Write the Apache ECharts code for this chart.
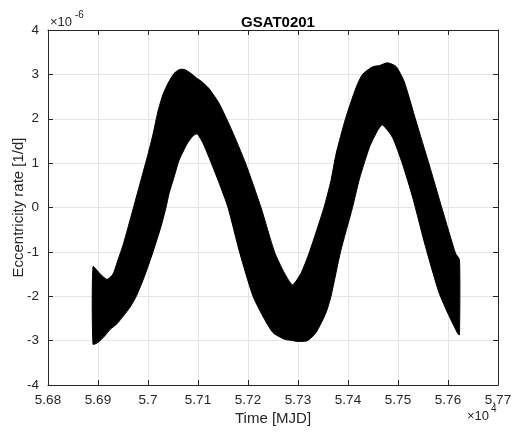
<!DOCTYPE html>
<html>
<head>
<meta charset="utf-8">
<script src="https://cdn.jsdelivr.net/npm/echarts@6/dist/echarts.min.js"></script>
<style>
  html, body { margin: 0; padding: 0; background: #fff; }
  #main { width: 513px; height: 432px; }
</style>
</head>
<body>
<div id="main"></div>
<script>
var chart = echarts.init(document.getElementById('main'));

// envelope of the eccentricity-rate band, values in units of 1e-6 [1/d], time in MJD
var upperTime = [56890, 56903, 56918, 56930, 56940, 56950, 56960, 56971, 56986, 57000,
    57010, 57020, 57030, 57041, 57052, 57063, 57073, 57085, 57097, 57106, 57122,
    57142, 57168, 57195, 57226, 57253, 57273, 57289, 57306, 57323, 57352,
    57366, 57376, 57395, 57416, 57429, 57449, 57463, 57479, 57496, 57512,
    57536, 57562, 57589, 57615, 57623];
var upperRate = [-1.33, -1.48, -1.62, -1.5, -1.18, -0.85, -0.45, 0, 0.62, 1.2,
    1.65, 2.17, 2.55, 2.82, 3.02, 3.11, 3.11, 3.03, 2.92, 2.85, 2.68,
    2.35, 1.73, 1.0, 0, -1, -1.48, -1.74, -1.48, -1.0, 0,
    0.61, 1.2, 2.0, 2.7, 3.0, 3.17, 3.2, 3.26, 3.18, 2.85,
    1.95, 0.98, -0.06, -1.03, -1.18];
var lowerTime = [56890, 56900, 56913, 56925, 56938, 56951, 56964, 56977, 56993, 57010,
    57026, 57036, 57042, 57052, 57062, 57078, 57089, 57098, 57110, 57122, 57142,
    57160, 57183, 57210, 57233, 57250, 57273, 57290, 57299, 57319, 57336,
    57356, 57366, 57385, 57409, 57423, 57443, 57460, 57469, 57489, 57509,
    57529, 57555, 57582, 57602, 57620, 57623];
var lowerRate = [-3.08, -3.04, -2.9, -2.74, -2.62, -2.44, -2.25, -1.99, -1.55, -1.0,
    -0.43, 0, 0.31, 0.68, 1.06, 1.43, 1.6, 1.66, 1.45, 1.13, 0.56,
    0, -1, -2, -2.52, -2.82, -2.97, -3.0, -3.02, -3.0, -2.82,
    -2.37, -2.0, -1.0, 0, 0.65, 1.36, 1.75, 1.86, 1.58, 0.98,
    0.24, -0.88, -1.92, -2.44, -2.85, -2.87];

var xMin = 56800, xMax = 57700, xStep = 100;
var yMin = -4, yMax = 4, yStep = 1;

var axisColor = '#262626';
var gridColor = '#e5e5e5';
var font = 'Liberation Sans, Helvetica, Arial, sans-serif';

function xLabel(v) {
    return String(Number((v / 10000).toFixed(2)));
}

// top / right box edges, ticks only
var hiddenAxis = {
    axisLine: { show: true, onZero: false, lineStyle: { color: axisColor, width: 1 } },
    axisTick: { show: true, inside: true, length: 5, lineStyle: { color: axisColor } },
    axisLabel: { show: false },
    splitLine: { show: false }
};

option = {
    backgroundColor: '#fff',
    animation: false,
    grid: {
        left: 48,
        right: 15,
        top: 30,
        bottom: 47,
        containLabel: false,
        outerBoundsMode: 'none'
    },
    title: {
        text: 'GSAT0201',
        left: 273,
        top: 10,
        textAlign: 'center',
        textStyle: {
            fontFamily: font,
            fontWeight: 'bold',
            fontSize: 15,
            color: '#000'
        }
    },
    graphic: [
        { type: 'text', left: 50, top: 16, style: { text: '×10', font: '13px ' + font, fill: axisColor } },
        { type: 'text', left: 75, top: 10, style: { text: '-6', font: '10px ' + font, fill: axisColor } },
        { type: 'text', left: 467, top: 410, style: { text: '×10', font: '13px ' + font, fill: axisColor } },
        { type: 'text', left: 491, top: 404, style: { text: '4', font: '10px ' + font, fill: axisColor } }
    ],
    xAxis: [{
        type: 'value',
        min: xMin,
        max: xMax,
        interval: xStep,
        position: 'bottom',
        name: 'Time [MJD]',
        nameLocation: 'middle',
        nameGap: 26,
        nameMoveOverlap: false,
        nameTextStyle: { fontFamily: font, fontSize: 15, color: axisColor },
        axisLine: { show: true, onZero: false, lineStyle: { color: axisColor, width: 1 } },
        axisTick: { show: true, inside: true, length: 5, lineStyle: { color: axisColor } },
        axisLabel: {
            fontFamily: font,
            fontSize: 13.5,
            color: axisColor,
            margin: 8,
            formatter: xLabel
        },
        splitLine: { show: true, lineStyle: { color: gridColor, width: 1 } }
    }, Object.assign({
        type: 'value',
        min: xMin,
        max: xMax,
        interval: xStep,
        position: 'top'
    }, hiddenAxis)],
    yAxis: [{
        type: 'value',
        min: yMin,
        max: yMax,
        interval: yStep,
        position: 'left',
        name: 'Eccentricity rate [1/d]',
        nameLocation: 'middle',
        nameGap: 22,
        nameMoveOverlap: false,
        nameTextStyle: { fontFamily: font, fontSize: 15, color: axisColor },
        axisLine: { show: true, onZero: false, lineStyle: { color: axisColor, width: 1 } },
        axisTick: { show: true, inside: true, length: 5, lineStyle: { color: axisColor } },
        axisLabel: {
            fontFamily: font,
            fontSize: 13.5,
            color: axisColor,
            margin: 9
        },
        splitLine: { show: true, lineStyle: { color: gridColor, width: 1 } }
    }, Object.assign({
        type: 'value',
        min: yMin,
        max: yMax,
        interval: yStep,
        position: 'right'
    }, hiddenAxis)],
    series: [{
        type: 'custom',
        xAxisIndex: 0,
        yAxisIndex: 0,
        data: [[upperTime[0], upperRate[0]]],
        z: 3,
        renderItem: function(params, api) {
            var pts = [];
            for (var i = 0; i < upperTime.length; i++) {
                pts.push(api.coord([upperTime[i], upperRate[i]]));
            }
            for (var j = lowerTime.length - 1; j >= 0; j--) {
                pts.push(api.coord([lowerTime[j], lowerRate[j]]));
            }
            return {
                type: 'polygon',
                shape: { points: pts, smooth: 0.2 },
                style: { fill: '#000', stroke: '#000', lineWidth: 1 }
            };
        }
    }]
};

chart.setOption(option);
</script>
</body>
</html>
